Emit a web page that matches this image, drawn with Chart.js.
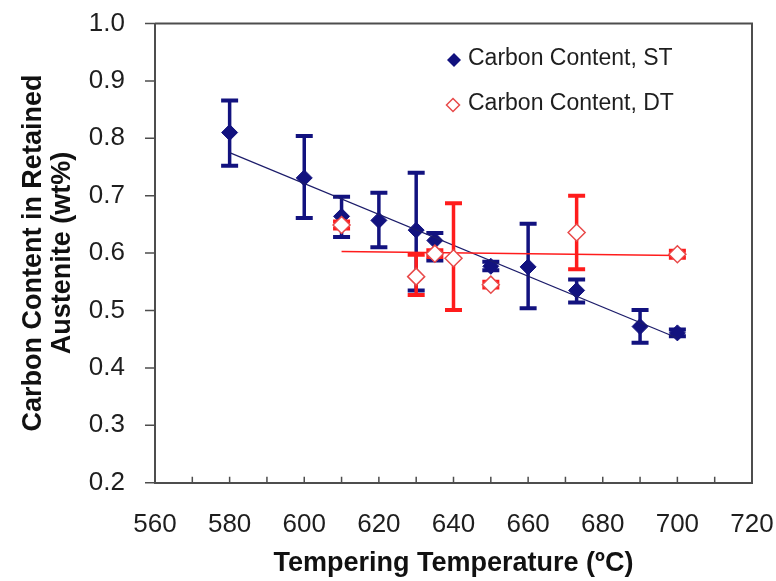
<!DOCTYPE html>
<html>
<head>
<meta charset="utf-8">
<script src="https://cdn.jsdelivr.net/npm/chart.js@4.4.0/dist/chart.umd.min.js"></script>
<style>
  html, body { margin: 0; padding: 0; background: #fff; }
  #wrap { width: 776px; height: 581px; }
</style>
</head>
<body>
<div id="wrap"><canvas id="carbon_chart"></canvas></div>
<script>
// single tempering (ST)
var temps_st = [580, 600, 610, 620, 630, 635, 650, 660, 673, 690, 700];
var carbon_st = [0.810, 0.731, 0.664, 0.657, 0.640, 0.622, 0.577, 0.576, 0.535, 0.472, 0.461];
var carbon_st_hi = [0.866, 0.804, 0.698, 0.705, 0.740, 0.635, 0.585, 0.651, 0.554, 0.501, 0.467];
var carbon_st_lo = [0.752, 0.661, 0.628, 0.610, 0.535, 0.587, 0.570, 0.504, 0.514, 0.444, 0.455];

// double tempering (DT)
var temps_dt = [610, 630, 635, 640, 650, 673, 700];
var carbon_dt = [0.649, 0.559, 0.599, 0.591, 0.545, 0.636, 0.598];
var carbon_dt_hi = [0.655, 0.597, 0.605, 0.687, 0.550, 0.700, 0.604];
var carbon_dt_lo = [0.643, 0.527, 0.593, 0.501, 0.540, 0.572, 0.592];

// trend lines (end points)
var trend_st_x = [580, 700];
var trend_st_y = [0.775, 0.452];
var trend_dt_x = [610, 700];
var trend_dt_y = [0.603, 0.596];

var x_tick_values = [560, 580, 600, 620, 640, 660, 680, 700, 720];
var x_minor_values = [570, 590, 610, 630, 650, 670, 690, 710];
var y_tick_values = [0.2, 0.3, 0.4, 0.5, 0.6, 0.7, 0.8, 0.9, 1.0];
var legend_labels = ['Carbon Content, ST', 'Carbon Content, DT'];

const NAVY = '#12127f';
const RED = '#ff1c1c';
const RED_MARK = 'rgb(232, 74, 74)';
const FRAME = '#4d4d4d';
const FONT = "'Liberation Sans', Arial, sans-serif";

function toPoints(xs, ys) {
  return xs.map((x, i) => ({x: x, y: ys[i]}));
}

function diamond(ctx, x, y, r) {
  ctx.beginPath();
  ctx.moveTo(x, y - r);
  ctx.lineTo(x + r, y);
  ctx.lineTo(x, y + r);
  ctx.lineTo(x - r, y);
  ctx.closePath();
}

// error bars are drawn just before the points of their dataset
const errorBars = {
  id: 'errorBars',
  beforeDatasetDraw(chart, args) {
    const ds = chart.data.datasets[args.index];
    if (!ds.errHi) return;
    const xs = chart.scales.x, ys = chart.scales.y, ctx = chart.ctx;
    ctx.save();
    ctx.strokeStyle = ds.errColor;
    ds.data.forEach((p, i) => {
      const px = xs.getPixelForValue(p.x);
      const top = ys.getPixelForValue(ds.errHi[i]);
      const bot = ys.getPixelForValue(ds.errLo[i]);
      ctx.lineWidth = 3.5;
      ctx.beginPath();
      ctx.moveTo(px, top);
      ctx.lineTo(px, bot);
      ctx.stroke();
      ctx.lineWidth = 4;
      ctx.beginPath();
      ctx.moveTo(px - 8.5, top); ctx.lineTo(px + 8.5, top);
      ctx.moveTo(px - 8.5, bot); ctx.lineTo(px + 8.5, bot);
      ctx.stroke();
    });
    ctx.restore();
  }
};

// box frame, outward y ticks and inward x ticks
const frame = {
  id: 'frame',
  beforeDatasetsDraw(chart) {
    const a = chart.chartArea, ctx = chart.ctx, xs = chart.scales.x, ys = chart.scales.y;
    ctx.save();
    ctx.strokeStyle = FRAME;
    ctx.lineWidth = 2;
    ctx.beginPath();
    ctx.moveTo(a.left, a.top); ctx.lineTo(a.right, a.top); ctx.lineTo(a.right, a.bottom);
    ctx.stroke();
    ctx.lineWidth = 1.5;
    ctx.beginPath();
    x_tick_values.concat(x_minor_values).forEach(v => {
      const px = xs.getPixelForValue(v);
      ctx.moveTo(px, a.bottom);
      ctx.lineTo(px, a.bottom - 6);
    });
    y_tick_values.forEach(v => {
      const py = ys.getPixelForValue(v);
      ctx.moveTo(a.left - 10, py);
      ctx.lineTo(a.left, py);
    });
    ctx.stroke();
    ctx.restore();
  }
};

const legendBox = {
  id: 'legendBox',
  afterDraw(chart) {
    const ctx = chart.ctx;
    ctx.save();
    ctx.font = '23px ' + FONT;
    ctx.fillStyle = '#1e1e1e';
    ctx.textBaseline = 'alphabetic';
    ctx.textAlign = 'left';
    ctx.fillText(legend_labels[0], 468, 65);
    ctx.fillText(legend_labels[1], 468, 110);
    diamond(ctx, 454, 60, 7);
    ctx.fillStyle = NAVY;
    ctx.fill();
    diamond(ctx, 453, 105, 6.5);
    ctx.fillStyle = '#fff';
    ctx.fill();
    ctx.strokeStyle = RED_MARK;
    ctx.lineWidth = 1.5;
    ctx.stroke();
    ctx.restore();
  }
};

const data = {
  datasets: [
    {
      label: legend_labels[0],
      data: toPoints(temps_st, carbon_st),
      errHi: carbon_st_hi,
      errLo: carbon_st_lo,
      errColor: NAVY,
      pointStyle: 'rectRot',
      pointRadius: 8,
      backgroundColor: NAVY,
      borderColor: NAVY,
      borderWidth: 1,
      showLine: false,
      order: 4
    },
    {
      label: 'ST trend',
      data: toPoints(trend_st_x, trend_st_y),
      showLine: true,
      pointRadius: 0,
      borderColor: '#1c1c6a',
      borderWidth: 1.2,
      order: 3
    },
    {
      label: 'DT trend',
      data: toPoints(trend_dt_x, trend_dt_y),
      showLine: true,
      pointRadius: 0,
      borderColor: RED,
      borderWidth: 1.5,
      order: 2
    },
    {
      label: legend_labels[1],
      data: toPoints(temps_dt, carbon_dt),
      errHi: carbon_dt_hi,
      errLo: carbon_dt_lo,
      errColor: RED,
      pointStyle: 'rectRot',
      pointRadius: 8.5,
      backgroundColor: '#ffffff',
      borderColor: RED_MARK,
      borderWidth: 1.5,
      showLine: false,
      order: 1
    }
  ]
};

const config = {
  type: 'scatter',
  data: data,
  options: {
    responsive: true,
    maintainAspectRatio: false,
    animation: false,
    layout: { padding: { left: 0, top: 23.5, right: 24, bottom: 0 } },
    scales: {
      x: {
        type: 'linear',
        min: 560,
        max: 720,
        afterBuildTicks: s => { s.ticks = x_tick_values.map(v => ({value: v})); },
        afterFit: s => { s.height = 98.3; },
        // tick marks drawn by the frame plugin; tickLength only spaces the labels
        grid: { display: false, drawTicks: true, tickLength: 27 },
        border: { display: true, color: FRAME, width: 2 },
        ticks: {
          color: '#1e1e1e',
          padding: 0,
          font: { family: FONT, size: 26 },
          callback: v => String(v)
        },
        title: {
          display: true,
          text: 'Tempering Temperature (ºC)',
          color: '#111',
          font: { family: FONT, size: 27, weight: 'bold' },
          padding: { top: 0, bottom: 1 }
        }
      },
      y: {
        type: 'linear',
        min: 0.2,
        max: 1.0,
        afterBuildTicks: s => { s.ticks = y_tick_values.map(v => ({value: v})); },
        afterFit: s => { s.width = 155; },
        grid: { display: false, drawTicks: true, tickLength: 30 },
        border: { display: true, color: FRAME, width: 2 },
        ticks: {
          color: '#1e1e1e',
          padding: 0,
          font: { family: FONT, size: 26 },
          callback: v => v.toFixed(1)
        },
        title: {
          display: true,
          text: ['Carbon Content in Retained', 'Austenite (wt%)'],
          color: '#111',
          font: { family: FONT, size: 27, weight: 'bold', lineHeight: '29px' },
          padding: { top: 19.5, bottom: 0 }
        }
      }
    },
    plugins: {
      legend: { display: false },
      tooltip: { enabled: false }
    }
  },
  plugins: [errorBars, frame, legendBox]
};

const carbonChart = new Chart(document.getElementById('carbon_chart'), config);
</script>
</body>
</html>
